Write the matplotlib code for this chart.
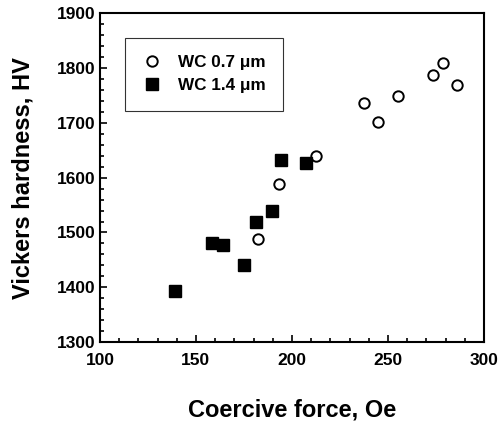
import matplotlib
matplotlib.use("Agg")
import matplotlib.pyplot as plt
import matplotlib.ticker as ticker

plt.rcParams["font.family"] = ["Liberation Sans", "DejaVu Sans"]
plt.rcParams["font.weight"] = "bold"

# WC 0.7 um (open circles)
fine_hc = [182.1, 193.4, 212.3, 237.7, 244.6, 255.4, 273.6, 278.8, 285.8]
fine_hv = [1489, 1588, 1640, 1736, 1701, 1749, 1787, 1810, 1769]

# WC 1.4 um (filled squares)
coarse_hc = [139.1, 158.3, 163.9, 174.8, 181.3, 189.4, 194.4, 207.3]
coarse_hv = [1393, 1481, 1477, 1440, 1519, 1540, 1632, 1626]

fig = plt.figure(figsize=(5.02, 4.25), dpi=100)
ax = fig.add_axes([0.199, 0.195, 0.765, 0.774])

ax.plot(fine_hc, fine_hv, linestyle="none", marker="o", markersize=7.5,
        markerfacecolor="white", markeredgecolor="black", markeredgewidth=1.4,
        label="WC 0.7 μm")
ax.plot(coarse_hc, coarse_hv, linestyle="none", marker="s", markersize=8.5,
        markerfacecolor="black", markeredgecolor="black",
        label="WC 1.4 μm")

ax.set_xlim(100, 300)
ax.set_ylim(1300, 1900)
ax.xaxis.set_major_locator(ticker.MultipleLocator(50))
ax.xaxis.set_minor_locator(ticker.MultipleLocator(10))
ax.yaxis.set_major_locator(ticker.MultipleLocator(100))
ax.yaxis.set_minor_locator(ticker.MultipleLocator(20))
ax.tick_params(which="both", direction="in", width=1.2)
ax.tick_params(which="major", length=5, labelsize=12.5)
ax.tick_params(axis="x", which="major", pad=8)
ax.tick_params(axis="y", which="major", pad=3)
ax.tick_params(which="minor", length=3)
for lab in ax.get_xticklabels() + ax.get_yticklabels():
    lab.set_fontweight("bold")
for spine in ax.spines.values():
    spine.set_linewidth(1.5)

ax.set_xlabel("Coercive force, Oe", fontsize=17, fontweight="bold", labelpad=22)
ax.set_ylabel("Vickers hardness, HV", fontsize=17, fontweight="bold", labelpad=16)

leg = ax.legend(loc="upper left", bbox_to_anchor=(0.065, 0.925), fontsize=12.3,
                frameon=True, fancybox=False, edgecolor="black",
                borderpad=1.0, handletextpad=0.9, handlelength=1.2,
                borderaxespad=0, labelspacing=0.5)
leg.get_frame().set_linewidth(0.8)
for t in leg.get_texts():
    t.set_fontweight("bold")

fig.savefig("out.png", dpi=100, facecolor="white")
